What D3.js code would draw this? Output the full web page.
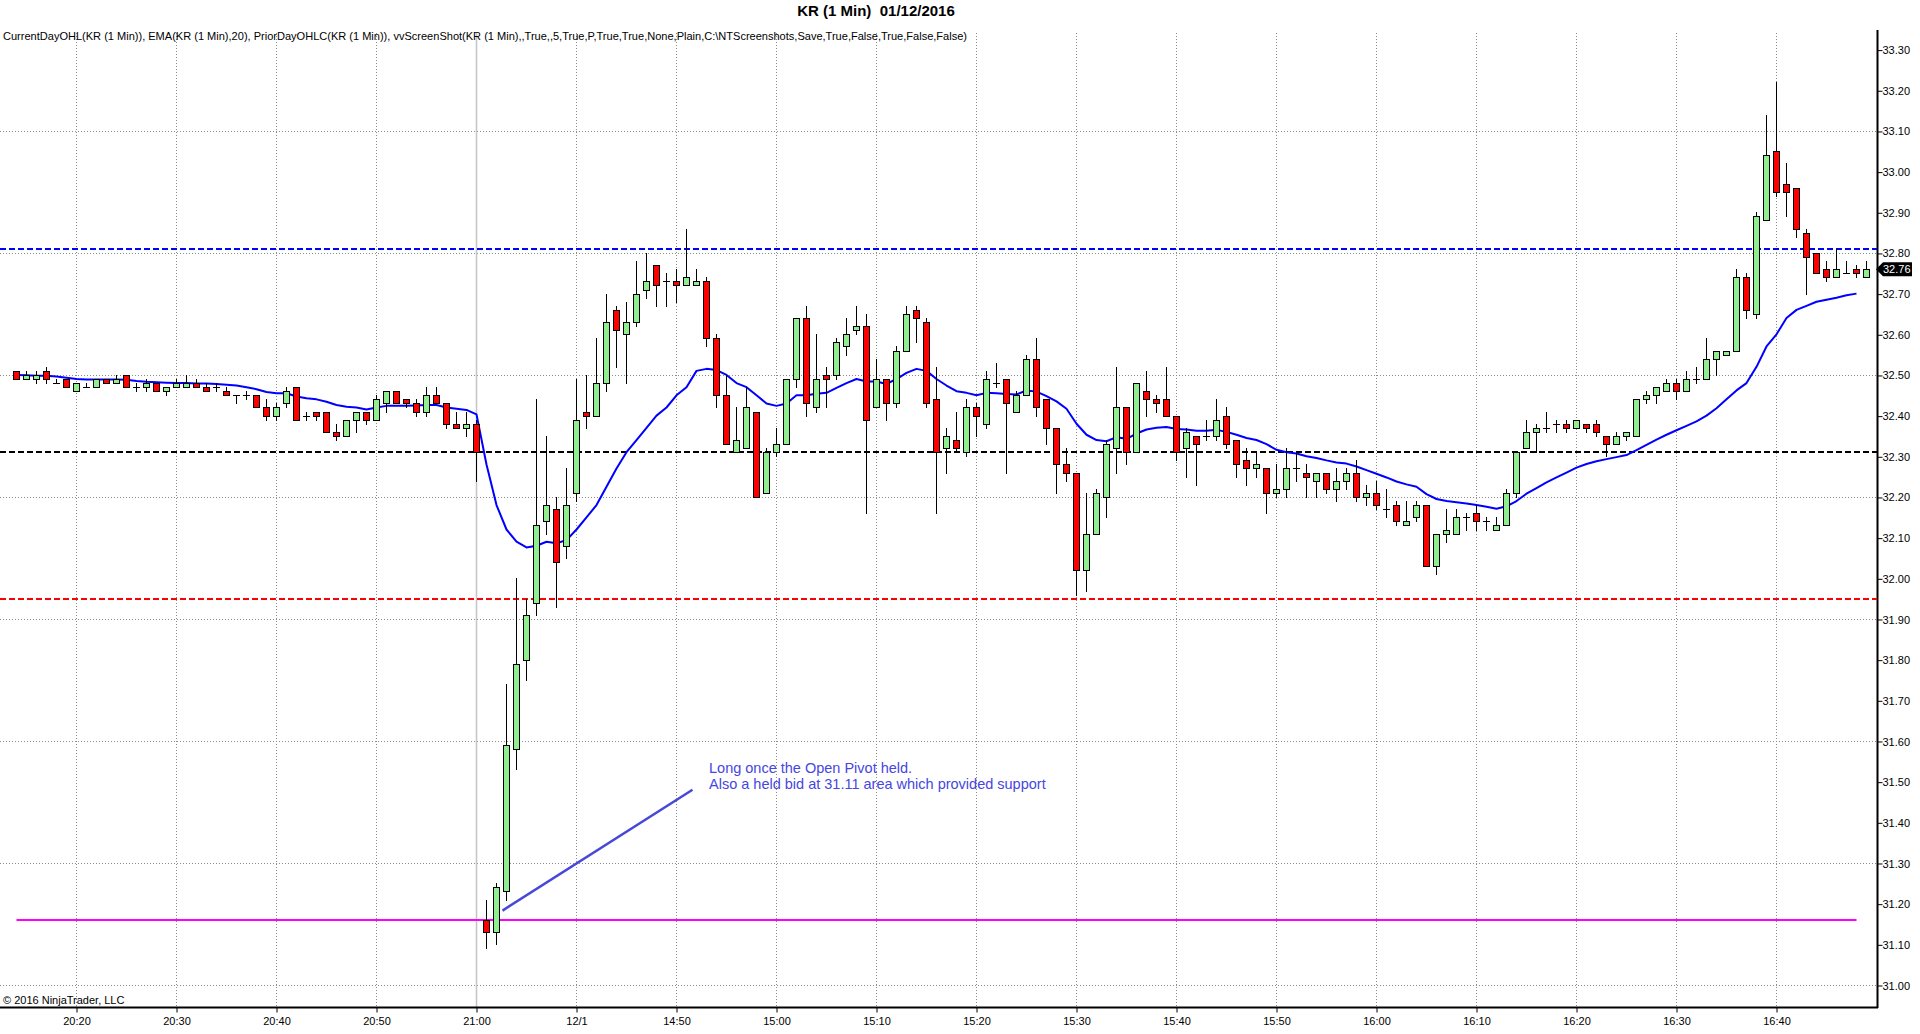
<!DOCTYPE html>
<html>
<head>
<meta charset="utf-8">
<script src="https://cdn.jsdelivr.net/npm/d3@7"></script>
<style>
  html, body { margin: 0; padding: 0; background: #fff; }
  svg { display: block; font-family: "Liberation Sans", Arial, sans-serif; }
</style>
</head>
<body>
<svg id="main-chart-svg" width="1920" height="1034"></svg>
<script>
// 1 minute bars of KR, index 0 = 20:14, index 47 = first bar of 12/1 session (14:31)
const openP = [
  32.51,32.49,32.49,32.51,32.48,32.49,32.46,32.47,32.47,32.49,32.48,32.50,32.47,32.47,32.48,32.46,32.47,32.47,32.48,32.47,
  32.47,32.46,32.45,32.45,32.45,32.42,32.40,32.43,32.47,32.40,32.41,32.41,32.36,32.35,32.39,32.41,32.39,32.43,32.46,32.44,
  32.43,32.41,32.45,32.43,32.38,32.37,32.38,31.16,31.13,31.23,31.58,31.80,31.94,32.14,32.17,32.08,32.21,32.41,32.40,32.48,
  32.66,32.60,32.63,32.71,32.77,32.73,32.73,32.72,32.72,32.73,32.59,32.45,32.31,32.32,32.41,32.21,32.31,32.33,32.49,32.64,
  32.42,32.50,32.50,32.57,32.61,32.62,32.42,32.49,32.43,32.56,32.66,32.63,32.44,32.32,32.34,32.31,32.42,32.38,32.48,32.49,
  32.41,32.45,32.54,32.44,32.37,32.28,32.26,32.02,32.11,32.20,32.32,32.42,32.31,32.46,32.44,32.44,32.40,32.32,32.35,32.35,
  32.35,32.40,32.34,32.29,32.27,32.27,32.21,32.22,32.27,32.26,32.24,32.26,32.22,32.24,32.26,32.20,32.21,32.17,32.18,32.13,
  32.15,32.18,32.03,32.11,32.11,32.15,32.16,32.14,32.12,32.13,32.21,32.32,32.36,32.37,32.38,32.38,32.37,32.38,32.38,32.35,
  32.33,32.35,32.35,32.44,32.45,32.46,32.48,32.46,32.49,32.49,32.54,32.55,32.56,32.74,32.65,32.88,33.05,32.97,32.96,32.85,
  32.80,32.76,32.74,32.75,32.76,32.74
];
const highP = [
  32.51,32.51,32.51,32.52,32.49,32.49,32.48,32.48,32.49,32.49,32.50,32.50,32.48,32.49,32.48,32.47,32.49,32.50,32.49,32.48,
  32.48,32.47,32.45,32.46,32.45,32.44,32.43,32.47,32.47,32.41,32.41,32.41,32.38,32.39,32.41,32.41,32.45,32.46,32.46,32.44,
  32.44,32.47,32.47,32.43,32.41,32.41,32.39,31.21,31.25,31.74,32.00,31.95,32.44,32.35,32.20,32.27,32.49,32.50,32.59,32.70,
  32.67,32.68,32.78,32.80,32.77,32.75,32.76,32.86,32.76,32.74,32.60,32.50,32.42,32.47,32.41,32.32,32.37,32.49,32.64,32.67,
  32.60,32.52,32.59,32.64,32.67,32.65,32.54,32.49,32.57,32.67,32.67,32.64,32.52,32.37,32.41,32.44,32.43,32.51,32.53,32.49,
  32.46,32.55,32.59,32.44,32.37,32.32,32.26,32.21,32.22,32.34,32.52,32.42,32.48,32.51,32.45,32.52,32.40,32.37,32.35,32.39,
  32.44,32.42,32.34,32.32,32.31,32.27,32.28,32.32,32.31,32.28,32.26,32.26,32.27,32.27,32.29,32.23,32.24,32.22,32.19,32.19,
  32.19,32.18,32.11,32.17,32.17,32.16,32.18,32.15,32.15,32.22,32.31,32.39,32.38,32.41,32.39,32.39,32.39,32.38,32.39,32.35,
  32.36,32.36,32.44,32.46,32.47,32.49,32.49,32.51,32.52,32.59,32.56,32.56,32.76,32.75,32.90,33.14,33.22,33.02,32.96,32.86,
  32.80,32.78,32.81,32.78,32.77,32.78
];
const lowP = [
  32.49,32.49,32.48,32.48,32.48,32.47,32.46,32.47,32.47,32.48,32.48,32.47,32.46,32.46,32.46,32.45,32.47,32.47,32.47,32.46,
  32.46,32.45,32.43,32.44,32.42,32.39,32.39,32.42,32.39,32.39,32.39,32.36,32.34,32.35,32.36,32.38,32.39,32.41,32.43,32.42,
  32.40,32.40,32.43,32.37,32.37,32.35,32.24,31.09,31.10,31.21,31.53,31.75,31.91,32.11,31.93,32.05,32.19,32.37,32.40,32.46,
  32.52,32.48,32.62,32.69,32.67,32.67,32.68,32.72,32.72,32.57,32.42,32.33,32.31,32.32,32.20,32.21,32.30,32.33,32.47,32.40,
  32.41,32.42,32.49,32.55,32.60,32.16,32.42,32.39,32.42,32.56,32.58,32.42,32.16,32.26,32.31,32.30,32.35,32.37,32.47,32.26,
  32.41,32.45,32.40,32.33,32.21,32.24,31.96,31.97,32.11,32.15,32.26,32.28,32.31,32.40,32.41,32.40,32.29,32.25,32.23,32.34,
  32.34,32.32,32.25,32.23,32.25,32.16,32.20,32.20,32.24,32.20,32.20,32.21,32.19,32.22,32.19,32.18,32.17,32.15,32.13,32.13,
  32.14,32.03,32.01,32.09,32.11,32.12,32.12,32.12,32.12,32.13,32.20,32.32,32.31,32.36,32.36,32.36,32.37,32.36,32.35,32.30,
  32.33,32.34,32.35,32.43,32.43,32.46,32.44,32.46,32.48,32.49,32.50,32.55,32.56,32.64,32.64,32.88,32.94,32.89,32.84,32.70,
  32.75,32.73,32.74,32.75,32.74,32.74
];
const closeP = [
  32.49,32.50,32.50,32.49,32.48,32.47,32.48,32.47,32.49,32.48,32.49,32.47,32.47,32.48,32.46,32.47,32.48,32.48,32.47,32.46,
  32.47,32.45,32.45,32.45,32.42,32.40,32.42,32.46,32.39,32.40,32.40,32.36,32.35,32.39,32.41,32.39,32.44,32.46,32.43,32.43,
  32.41,32.45,32.43,32.38,32.37,32.38,32.31,31.13,31.24,31.59,31.79,31.91,32.13,32.18,32.04,32.18,32.39,32.40,32.48,32.63,
  32.61,32.63,32.70,32.73,32.72,32.73,32.72,32.74,32.73,32.59,32.45,32.33,32.34,32.42,32.20,32.31,32.33,32.49,32.64,32.43,
  32.49,32.49,32.58,32.60,32.62,32.39,32.49,32.43,32.56,32.65,32.64,32.43,32.31,32.35,32.32,32.42,32.40,32.49,32.48,32.43,
  32.45,32.54,32.42,32.37,32.28,32.26,32.02,32.11,32.21,32.33,32.42,32.31,32.48,32.44,32.43,32.40,32.31,32.36,32.33,32.35,
  32.39,32.33,32.28,32.27,32.28,32.21,32.22,32.27,32.27,32.25,32.26,32.22,32.24,32.26,32.20,32.21,32.18,32.17,32.14,32.14,
  32.18,32.03,32.11,32.12,32.15,32.15,32.14,32.14,32.13,32.21,32.31,32.36,32.37,32.37,32.38,32.37,32.39,32.37,32.36,32.33,
  32.35,32.36,32.44,32.45,32.47,32.48,32.46,32.49,32.49,32.54,32.56,32.56,32.74,32.66,32.89,33.04,32.95,32.95,32.86,32.79,
  32.75,32.74,32.76,32.75,32.75,32.76
];
// EMA(20) as plotted (ends one bar before the last bar)
const emaValues = [
  32.500,32.499,32.498,32.498,32.496,32.493,32.490,32.489,32.489,32.489,32.489,32.488,32.485,32.483,32.482,32.481,32.480,32.480,32.479,32.479,
  32.478,32.476,32.474,32.470,32.465,32.458,32.455,32.455,32.447,32.443,32.440,32.434,32.426,32.422,32.420,32.415,32.420,32.424,32.424,32.424,
  32.425,32.426,32.426,32.420,32.417,32.414,32.403,32.280,32.180,32.120,32.090,32.076,32.080,32.090,32.086,32.094,32.120,32.150,32.180,32.225,
  32.270,32.310,32.340,32.370,32.400,32.420,32.450,32.470,32.510,32.515,32.512,32.500,32.480,32.470,32.450,32.430,32.424,32.430,32.450,32.450,
  32.454,32.456,32.468,32.480,32.490,32.484,32.484,32.478,32.490,32.505,32.515,32.510,32.490,32.474,32.460,32.456,32.450,32.456,32.455,32.453,
  32.452,32.462,32.459,32.448,32.435,32.417,32.380,32.353,32.340,32.337,32.347,32.343,32.356,32.366,32.370,32.372,32.367,32.366,32.363,32.363,
  32.365,32.360,32.353,32.345,32.340,32.330,32.316,32.310,32.307,32.300,32.296,32.290,32.285,32.282,32.275,32.266,32.257,32.248,32.238,32.231,
  32.225,32.207,32.195,32.190,32.187,32.184,32.180,32.176,32.171,32.177,32.190,32.208,32.222,32.236,32.248,32.260,32.272,32.281,32.288,32.293,
  32.298,32.303,32.315,32.328,32.341,32.353,32.364,32.375,32.386,32.400,32.418,32.440,32.462,32.480,32.520,32.570,32.600,32.640,32.660,32.670,
  32.680,32.685,32.690,32.696,32.700
];

const tickIndex = [6,16,26,36,46,56,66,76,86,96,106,116,126,136,146,156,166,176];
const tickLabels = ["20:20","20:30","20:40","20:50","21:00","12/1","14:50","15:00","15:10","15:20",
                    "15:30","15:40","15:50","16:00","16:10","16:20","16:30","16:40"];
const sessionBreakIndex = 46;

const priceTicks = [31.0,31.1,31.2,31.3,31.4,31.5,31.6,31.7,31.8,31.9,32.0,32.1,
                    32.2,32.3,32.4,32.5,32.6,32.7,32.8,32.9,33.0,33.1,33.2,33.3];
const gridPrices = [31.0,31.3,31.6,31.9,32.2,32.5,32.8,33.1];

// PriorDayOHLC high / close / low, CurrentDayOHL open
const levelNames = ["priorHigh","priorClose","priorLow","currentOpen"];
const levelValues = [32.81, 32.31, 31.95, 31.16];

const lastPrice = 32.76;

// drawn trend line and text note, in (bar index, price)
const noteLine = [[48.6, 31.183], [67.6, 31.48]];
const noteAnchor = [69.25, 31.522];
const noteText = ["Long once the Open Pivot held.",
                  "Also a held bid at 31.11 area which provided support"];

const titleText = "KR (1 Min)  01/12/2016";
const indicatorText = "CurrentDayOHL(KR (1 Min)), EMA(KR (1 Min),20), PriorDayOHLC(KR (1 Min)), vvScreenShot(KR (1 Min),,True,,5,True,P,True,True,None,Plain,C:\\NTScreenshots,Save,True,False,True,False,False)";
const copyrightText = "\u00a9 2016 NinjaTrader, LLC";

class Chart {

    constructor() {
        this.svg = d3.select("#main-chart-svg");
        this.width = +this.svg.attr("width");
        this.height = +this.svg.attr("height");
        this.axisX = 1877;      // price axis line
        this.panelTop = 33;
        this.panelBottom = 1007;
    }

    createChart()
    {
        const svg = this.svg;
        const n = closeP.length;

        const xScale = d3.scaleLinear()
            .domain([0, n - 1])
            .range([16.5, 16.5 + 10 * (n - 1)]);

        const yScale = d3.scaleLinear()
            .domain([31.0, 33.3])
            .range([985, 49.6]);

        const py = v => Math.round(yScale(v)) + 0.5;

        svg.append("rect").attr("width", this.width).attr("height", this.height).attr("fill", "#fff");

        svg.append("clipPath").attr("id", "panel-clip")
            .append("rect")
            .attr("x", 0).attr("y", this.panelTop)
            .attr("width", this.axisX).attr("height", this.panelBottom - this.panelTop);

        // grid
        let grid = svg.append("g").attr("id", "grid");
        grid.selectAll(".hgrid").data(gridPrices).enter().append("line")
            .attr("x1", 0).attr("x2", this.axisX)
            .attr("y1", d => py(d)).attr("y2", d => py(d))
            .attr("stroke", "#8c8c8c").attr("stroke-dasharray", "1,2");
        grid.selectAll(".vgrid").data(tickIndex).enter().append("line")
            .attr("x1", d => xScale(d)).attr("x2", d => xScale(d))
            .attr("y1", this.panelTop).attr("y2", this.panelBottom)
            .attr("stroke", d => d === sessionBreakIndex ? "#c4c4c4" : "#8c8c8c")
            .attr("stroke-width", d => d === sessionBreakIndex ? 1.5 : 1)
            .attr("stroke-dasharray", d => d === sessionBreakIndex ? null : "1,2");

        // axes
        let yAxis = d3.axisRight(yScale)
            .tickValues(priceTicks)
            .tickSize(5)
            .tickFormat(d3.format(".2f"));
        let gy = svg.append("g").attr("id", "yAxis")
            .attr("transform", "translate(" + (this.axisX + 0.5) + ",0.5)")
            .call(yAxis);
        gy.select(".domain").remove();
        gy.selectAll("text").attr("font-size", 11).attr("font-family", "Liberation Sans, Arial").attr("x", 5).attr("fill", "#000");
        gy.selectAll("line").attr("stroke", "#000");

        let xAxis = d3.axisBottom(xScale)
            .tickValues(tickIndex)
            .tickSize(5)
            .tickFormat((d, i) => tickLabels[i]);
        let gx = svg.append("g").attr("id", "xAxis")
            .attr("transform", "translate(0," + (this.panelBottom + 0.5) + ")")
            .call(xAxis);
        gx.select(".domain").remove();
        gx.selectAll("text").attr("font-size", 11).attr("font-family", "Liberation Sans, Arial").attr("y", 10).attr("fill", "#000");
        gx.selectAll("line").attr("stroke", "#000");

        svg.append("line")
            .attr("x1", this.axisX + 0.5).attr("x2", this.axisX + 0.5)
            .attr("y1", 30).attr("y2", this.panelBottom + 1)
            .attr("stroke", "#000").attr("stroke-width", 2);
        svg.append("line")
            .attr("x1", 0).attr("x2", this.axisX + 1)
            .attr("y1", this.panelBottom + 0.5).attr("y2", this.panelBottom + 0.5)
            .attr("stroke", "#000").attr("stroke-width", 2);

        let panel = svg.append("g").attr("clip-path", "url(#panel-clip)");

        // prior day / current day levels
        const levelStyle = {
            priorHigh:   { color: "#0000ff", dash: "6,3", full: true },
            priorClose:  { color: "#000000", dash: "6,3", full: true },
            priorLow:    { color: "#ff0000", dash: "6,3", full: true },
            currentOpen: { color: "#ff00ff", dash: null,  full: false }
        };
        panel.selectAll(".level").data(levelValues).enter().append("line")
            .attr("x1", (d, i) => levelStyle[levelNames[i]].full ? 0 : xScale(0))
            .attr("x2", (d, i) => levelStyle[levelNames[i]].full ? this.axisX : xScale(n - 2))
            .attr("y1", d => Math.round(yScale(d))).attr("y2", d => Math.round(yScale(d)))
            .attr("stroke", (d, i) => levelStyle[levelNames[i]].color)
            .attr("stroke-width", 2)
            .attr("stroke-dasharray", (d, i) => levelStyle[levelNames[i]].dash);

        // EMA
        let emaLine = d3.line()
            .x((d, i) => xScale(i))
            .y(d => yScale(d));
        panel.append("path")
            .datum(emaValues)
            .attr("d", emaLine)
            .attr("fill", "none")
            .attr("stroke", "#0000ff")
            .attr("stroke-width", 2)
            .attr("stroke-linejoin", "round");

        // candles
        let bars = d3.range(n);
        let candles = panel.append("g").attr("id", "candles");
        candles.selectAll(".wick").data(bars).enter().append("line")
            .attr("x1", i => xScale(i)).attr("x2", i => xScale(i))
            .attr("y1", i => py(highP[i]) - 0.5).attr("y2", i => py(lowP[i]) + 0.5)
            .attr("stroke", "#000").attr("stroke-width", 1);
        candles.selectAll(".body").data(bars.filter(i => openP[i] !== closeP[i])).enter().append("rect")
            .attr("x", i => xScale(i) - 3)
            .attr("width", 6)
            .attr("y", i => py(Math.max(openP[i], closeP[i])))
            .attr("height", i => py(Math.min(openP[i], closeP[i])) - py(Math.max(openP[i], closeP[i])))
            .attr("fill", i => closeP[i] > openP[i] ? "#90ee90" : "#ff0000")
            .attr("stroke", "#000").attr("stroke-width", 1);
        candles.selectAll(".doji").data(bars.filter(i => openP[i] === closeP[i])).enter().append("line")
            .attr("x1", i => xScale(i) - 3.5).attr("x2", i => xScale(i) + 3.5)
            .attr("y1", i => py(closeP[i])).attr("y2", i => py(closeP[i]))
            .attr("stroke", "#000").attr("stroke-width", 1);

        // note line and text
        panel.append("line")
            .attr("x1", xScale(noteLine[0][0])).attr("y1", yScale(noteLine[0][1]))
            .attr("x2", xScale(noteLine[1][0])).attr("y2", yScale(noteLine[1][1]))
            .attr("stroke", "#4848d8").attr("stroke-width", 2.5);
        svg.append("text")
            .attr("x", xScale(noteAnchor[0])).attr("y", yScale(noteAnchor[1]))
            .attr("font-size", 14.5).attr("fill", "#4646e0")
            .selectAll("tspan").data(noteText).enter().append("tspan")
            .attr("x", xScale(noteAnchor[0]))
            .attr("dy", (d, i) => i === 0 ? 0 : 16.6)
            .text(d => d);

        // last price marker
        const ly = yScale(lastPrice);
        svg.append("path")
            .attr("d", "M" + (this.axisX - 1) + "," + ly + " L" + (this.axisX + 6) + "," + (ly - 7) +
                       " H1912 V" + (ly + 7) + " H" + (this.axisX + 6) + " Z")
            .attr("fill", "#000");
        svg.append("text")
            .attr("x", this.axisX + 6).attr("y", ly + 4)
            .attr("font-size", 11).attr("fill", "#fff")
            .text(d3.format(".2f")(lastPrice));

        // labels
        svg.append("text")
            .attr("x", 876).attr("y", 16)
            .attr("text-anchor", "middle")
            .attr("font-size", 15).attr("font-weight", "bold")
            .style("white-space", "pre")
            .text(titleText);
        svg.append("text")
            .attr("x", 3).attr("y", 40)
            .attr("font-size", 11)
            .attr("textLength", 964).attr("lengthAdjust", "spacingAndGlyphs")
            .text(indicatorText);
        svg.append("text")
            .attr("x", 3).attr("y", 1004)
            .attr("font-size", 11)
            .text(copyrightText);
    }
}

let chart = new Chart();
chart.createChart();
</script>
</body>
</html>
